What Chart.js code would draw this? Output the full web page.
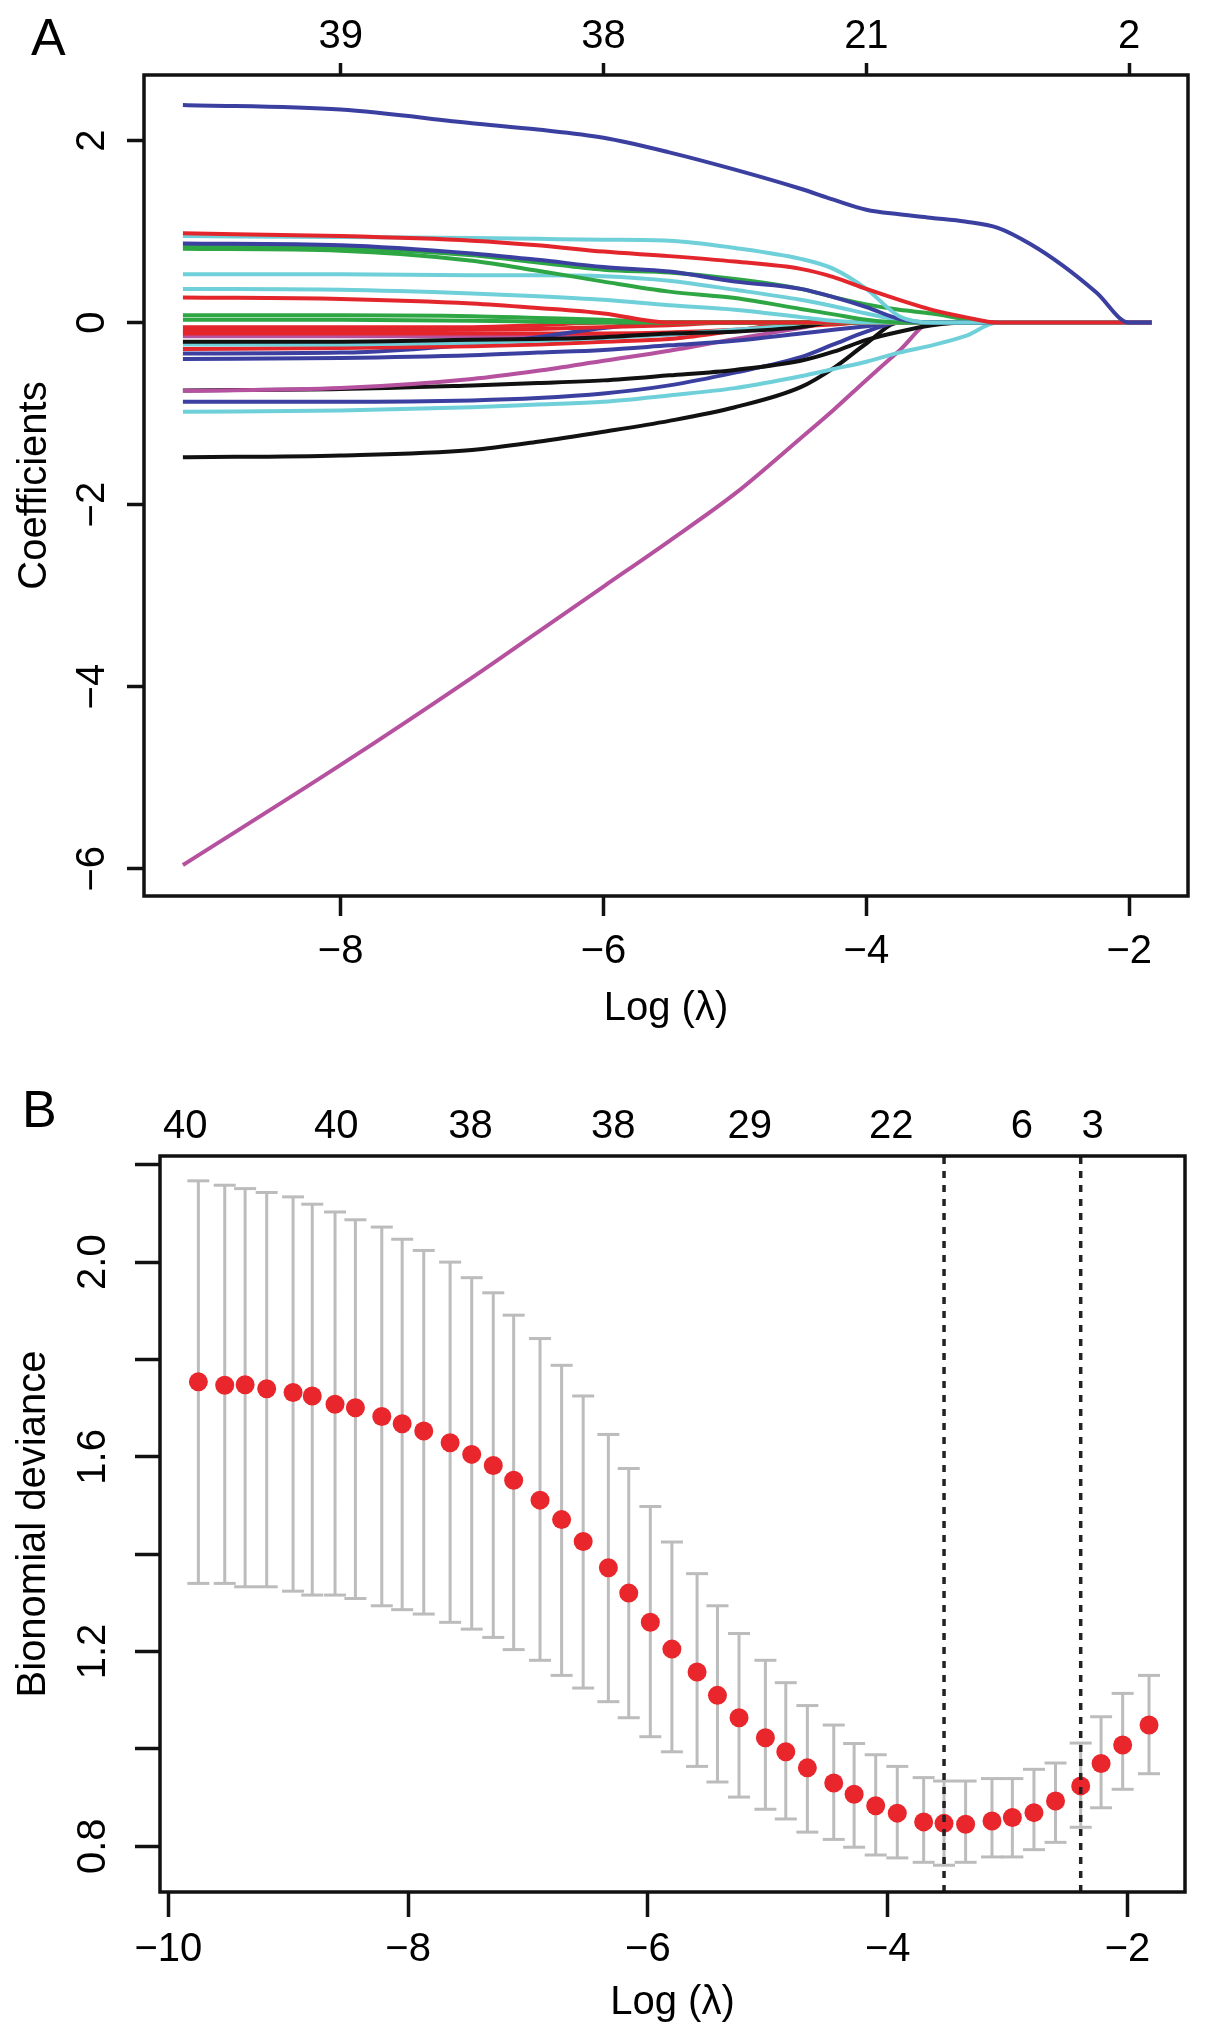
<!DOCTYPE html>
<html>
<head>
<meta charset="utf-8">
<script src="https://cdn.jsdelivr.net/npm/chart.js@4.4.1/dist/chart.umd.min.js"></script>
<style>
  body { margin: 0; background: #fff; width: 1205px; height: 2039px; position: relative; overflow: hidden;
         font-family: "Liberation Sans", Arial, Helvetica, sans-serif; }
  canvas { position: absolute; left: 0; }
  .tag { position: absolute; font-size: 52px; line-height: 52px; color: #000; }
</style>
</head>
<body>
<div class="tag" style="left:31px; top:11px">A</div>
<div class="tag" style="left:22px; top:1083px">B</div>
<canvas id="coefChart" style="top:0" width="1205" height="1040"></canvas>
<canvas id="cvChart" style="top:1040px" width="1205" height="999"></canvas>
<script>
// ---------- panel A : coefficient paths ----------
const logLambdaA = [-9.2, -8, -7, -6.5, -6, -5.5, -5, -4.5, -4.25, -4, -3.75, -3.5, -3.25, -3, -2.75, -2.5, -2.25, -2, -1.83];

const blueTop   = [2.39, 2.34, 2.19, 2.12, 2.03, 1.87, 1.68, 1.47, 1.35, 1.24, 1.19, 1.15, 1.11, 1.04, 0.86, 0.62, 0.33, 0, 0];
const redTop    = [0.98, 0.95, 0.90, 0.85, 0.78, 0.73, 0.67, 0.59, 0.50, 0.37, 0.25, 0.14, 0.06, 0, 0, 0, 0, 0, 0];
const cyanTop   = [0.95, 0.94, 0.93, 0.92, 0.91, 0.90, 0.82, 0.70, 0.59, 0.37, 0.07, 0, 0, 0, 0, 0, 0, 0, 0];
const blue2     = [0.87, 0.85, 0.76, 0.69, 0.61, 0.56, 0.45, 0.37, 0.28, 0.17, 0.04, 0, 0, 0, 0, 0, 0, 0, 0];
const greenA    = [0.84, 0.82, 0.74, 0.66, 0.58, 0.55, 0.48, 0.37, 0.28, 0.20, 0.14, 0.10, 0.04, 0, 0, 0, 0, 0, 0];
const greenB    = [0.81, 0.79, 0.68, 0.57, 0.45, 0.34, 0.27, 0.15, 0.09, 0.03, 0, 0, 0, 0, 0, 0, 0, 0, 0];
const cyan2     = [0.53, 0.53, 0.52, 0.52, 0.51, 0.46, 0.36, 0.25, 0.18, 0.10, 0.03, 0, 0, 0, 0, 0, 0, 0, 0];
const cyan3     = [0.37, 0.36, 0.32, 0.29, 0.25, 0.19, 0.14, 0.06, 0.02, 0, 0, 0, 0, 0, 0, 0, 0, 0, 0];
const red2      = [0.275, 0.26, 0.21, 0.16, 0.10, 0, 0, 0, 0, 0, 0, 0, 0, 0, 0, 0, 0, 0, 0];
const green3    = [0.08, 0.08, 0.07, 0.05, 0.03, 0, 0, 0, 0, 0, 0, 0, 0, 0, 0, 0, 0, 0, 0];
const green4    = [0.03, 0.03, 0.02, 0.01, 0, 0, 0, 0, 0, 0, 0, 0, 0, 0, 0, 0, 0, 0, 0];
const crimson1  = [-0.05, -0.05, -0.05, -0.03, 0, 0, 0, 0, 0, 0, 0, 0, 0, 0, 0, 0, 0, 0, 0];
const crimson2  = [-0.09, -0.09, -0.08, -0.07, -0.05, -0.03, 0, 0, 0, 0, 0, 0, 0, 0, 0, 0, 0, 0, 0];
const black1    = [-0.21, -0.21, -0.19, -0.18, -0.16, -0.12, -0.10, -0.05, 0, 0, 0, 0, 0, 0, 0, 0, 0, 0, 0];
const cyan5     = [-0.24, -0.24, -0.22, -0.20, -0.17, -0.13, -0.08, -0.03, 0, 0, 0, 0, 0, 0, 0, 0, 0, 0, 0];
const red3      = [-0.29, -0.28, -0.26, -0.24, -0.21, -0.18, -0.09, 0, 0, 0, 0, 0, 0, 0, 0, 0, 0, 0, 0];
const blueA     = [-0.34, -0.33, -0.24, -0.16, -0.06, 0, 0, 0, 0, 0, 0, 0, 0, 0, 0, 0, 0, 0, 0];
const blueB     = [-0.40, -0.39, -0.36, -0.33, -0.30, -0.25, -0.20, -0.12, -0.08, -0.04, 0, 0, 0, 0, 0, 0, 0, 0, 0];
const red4      = [-0.12, -0.12, -0.12, -0.12, -0.12, -0.11, -0.08, -0.04, -0.02, 0, 0, 0, 0, 0, 0, 0, 0, 0, 0];
const magenta3  = [-0.15, -0.15, -0.15, -0.15, -0.15, -0.13, -0.09, -0.03, 0, 0, 0, 0, 0, 0, 0, 0, 0, 0, 0];
const magenta2  = [-0.75, -0.72, -0.62, -0.53, -0.42, -0.31, -0.18, -0.06, 0, 0, 0, 0, 0, 0, 0, 0, 0, 0, 0];
const black2    = [-0.745, -0.73, -0.69, -0.665, -0.635, -0.58, -0.52, -0.42, -0.32, -0.19, -0.10, -0.03, 0, 0, 0, 0, 0, 0, 0];
const blue3     = [-0.87, -0.87, -0.855, -0.83, -0.78, -0.69, -0.55, -0.38, -0.24, -0.10, 0, 0, 0, 0, 0, 0, 0, 0, 0];
const cyan4     = [-0.98, -0.965, -0.93, -0.90, -0.87, -0.80, -0.72, -0.59, -0.51, -0.43, -0.33, -0.25, -0.15, 0, 0, 0, 0, 0, 0];
const black3    = [-1.48, -1.46, -1.40, -1.31, -1.20, -1.08, -0.93, -0.71, -0.50, -0.23, 0, 0, 0, 0, 0, 0, 0, 0, 0];
const magentaBig = [-5.96, -4.86, -3.90, -3.40, -2.90, -2.40, -1.88, -1.27, -0.96, -0.63, -0.31, 0, 0, 0, 0, 0, 0, 0, 0];

const coefXTicks = [-8, -6, -4, -2];
const coefXLabels = ['\u22128', '\u22126', '\u22124', '\u22122'];
const coefYTicks = [-6, -4, -2, 0, 2];
const coefYLabels = ['\u22126', '\u22124', '\u22122', '0', '2'];
const dfTopA = ['39', '38', '21', '2'];

// ---------- panel B : cross-validation ----------
const logLambdaB = [-9.75, -9.53, -9.36, -9.18, -8.96, -8.80, -8.61, -8.44, -8.22, -8.05, -7.87, -7.65, -7.47, -7.29,
  -7.12, -6.90, -6.72, -6.54, -6.33, -6.16, -5.98, -5.80, -5.59, -5.42, -5.24, -5.02, -4.85, -4.67, -4.45, -4.28,
  -4.10, -3.92, -3.70, -3.53, -3.35, -3.13, -2.96, -2.78, -2.60, -2.39, -2.22, -2.04, -1.82];
const devMean = [1.754, 1.747, 1.748, 1.740, 1.732, 1.725, 1.708, 1.701, 1.683, 1.668, 1.653, 1.629, 1.605, 1.582,
  1.552, 1.511, 1.471, 1.426, 1.372, 1.320, 1.260, 1.205, 1.158, 1.110, 1.064, 1.023, 0.994, 0.961, 0.930, 0.907,
  0.883, 0.868, 0.850, 0.847, 0.845, 0.852, 0.859, 0.869, 0.893, 0.924, 0.970, 1.008, 1.049];
const devUpper = [2.167, 2.158, 2.151, 2.143, 2.134, 2.119, 2.103, 2.087, 2.072, 2.047, 2.024, 2.000, 1.968, 1.937,
  1.891, 1.843, 1.788, 1.725, 1.646, 1.576, 1.498, 1.425, 1.360, 1.294, 1.237, 1.182, 1.136, 1.089, 1.049, 1.011,
  0.988, 0.964, 0.941, 0.934, 0.934, 0.939, 0.939, 0.958, 0.971, 1.012, 1.066, 1.114, 1.151];
const devLower = [1.340, 1.340, 1.333, 1.333, 1.324, 1.316, 1.316, 1.309, 1.294, 1.286, 1.277, 1.260, 1.246, 1.229,
  1.204, 1.182, 1.151, 1.125, 1.097, 1.064, 1.025, 0.994, 0.964, 0.932, 0.901, 0.876, 0.856, 0.829, 0.814, 0.798,
  0.782, 0.776, 0.767, 0.761, 0.767, 0.778, 0.778, 0.793, 0.808, 0.839, 0.879, 0.917, 0.949];
const lambdaMin = -3.53;
const lambda1se = -2.39;
const devXTicks = [-10, -8, -6, -4, -2];
const devXLabels = ['\u221210', '\u22128', '\u22126', '\u22124', '\u22122'];
const devYTicks = [0.8, 1.0, 1.2, 1.4, 1.6, 1.8, 2.0, 2.2];
const devYLabels = ['0.8', '', '1.2', '', '1.6', '', '2.0', ''];
const nzeroAtB = [-9.86, -8.60, -7.48, -6.29, -5.15, -3.97, -2.88, -2.29];
const nzeroB = ['40', '40', '38', '38', '29', '22', '6', '3'];
const devYMin = 0.706, devYMax = 2.218;

// ---------- drawing ----------
const BLACK = '#111111', RED = '#e3262b', GREEN = '#2ea644', BLUE = '#3b40a0', CYAN = '#6fd0da', MAGENTA = '#b5519f';
Chart.defaults.font.family = "'Liberation Sans', Arial, Helvetica, sans-serif";
Chart.defaults.color = '#000';

const frame = {
  id: 'frame',
  afterDraw(chart) {
    const { ctx, chartArea: a } = chart;
    ctx.save();
    ctx.strokeStyle = '#111';
    ctx.lineWidth = 3.5;
    ctx.strokeRect(a.left, a.top, a.right - a.left, a.bottom - a.top);
    ctx.restore();
  }
};

function tickMarks(len) {
  return { display: true, drawOnChartArea: false, drawTicks: true, tickLength: len, tickWidth: 3.5, tickColor: '#111' };
}
function fixedTicks(values) {
  return s => { s.ticks = values.map(v => ({ value: v })); };
}
const tickFont = { size: 40 };
const titleFont = { size: 40 };

const coefPaths = [
  [blueTop, BLUE], [redTop, RED], [cyanTop, CYAN], [blue2, BLUE], [greenA, GREEN], [greenB, GREEN],
  [cyan2, CYAN], [cyan3, CYAN], [red2, RED], [green3, GREEN], [green4, GREEN], [crimson1, RED],
  [crimson2, RED], [black1, BLACK], [cyan5, CYAN], [red3, RED], [blueA, BLUE], [blueB, BLUE],
  [red4, RED], [magenta3, MAGENTA], [magenta2, MAGENTA], [black2, BLACK], [blue3, BLUE], [cyan4, CYAN],
  [black3, BLACK], [magentaBig, MAGENTA]
];

new Chart(document.getElementById('coefChart'), {
  type: 'line',
  data: {
    datasets: coefPaths.map(([ys, color]) => ({
      data: ys.map((y, i) => ({ x: logLambdaA[i], y })),
      borderColor: color,
      borderWidth: 4,
      pointRadius: 0,
      cubicInterpolationMode: 'monotone',
      fill: false
    }))
  },
  options: {
    responsive: false,
    animation: false,
    devicePixelRatio: 1,
    events: [],
    layout: { padding: { left: 0, right: 17, top: 0, bottom: 0 } },
    plugins: { legend: { display: false }, tooltip: { enabled: false } },
    scales: {
      x: {
        type: 'linear', position: 'bottom', min: -9.496, max: -1.553,
        afterBuildTicks: fixedTicks(coefXTicks),
        afterFit: s => { s.height = 144; },
        grid: tickMarks(20), border: { display: false },
        ticks: { font: tickFont, padding: 12, autoSkip: false, maxRotation: 0, callback: (v, i) => coefXLabels[i] },
        title: { display: true, text: 'Log (\u03bb)', font: titleFont, padding: { top: 0, bottom: 7 } }
      },
      xTop: {
        type: 'linear', position: 'top', min: -9.496, max: -1.553,
        afterBuildTicks: fixedTicks(coefXTicks),
        afterFit: s => { s.height = 75; },
        grid: tickMarks(12), border: { display: false },
        ticks: { font: tickFont, padding: 2, autoSkip: false, maxRotation: 0, callback: (v, i) => dfTopA[i] }
      },
      y: {
        type: 'linear', position: 'left', min: -6.30, max: 2.72,
        afterBuildTicks: fixedTicks(coefYTicks),
        afterFit: s => { s.width = 144; },
        grid: tickMarks(17), border: { display: false },
        ticks: { font: tickFont, padding: 11, crossAlign: 'center', minRotation: 90, maxRotation: 90,
                 callback: (v, i) => coefYLabels[i] },
        title: { display: true, text: 'Coefficients', font: titleFont, padding: { top: 11, bottom: 0 } }
      }
    }
  },
  plugins: [frame]
});

const stemPoints = [];
logLambdaB.forEach((x, i) => {
  stemPoints.push({ x, y: devLower[i] }, { x, y: devUpper[i] }, { x, y: null });
});
const capStyle = { showLine: false, pointStyle: 'line', pointRadius: 11, pointBorderColor: '#bcbcbc', pointBorderWidth: 3 };
const cutStyle = { borderColor: '#222', borderWidth: 3.5, borderDash: [7, 7], pointRadius: 0 };

new Chart(document.getElementById('cvChart'), {
  type: 'line',
  data: {
    datasets: [
      { data: [{ x: lambdaMin, y: devYMin }, { x: lambdaMin, y: devYMax }], ...cutStyle },
      { data: [{ x: lambda1se, y: devYMin }, { x: lambda1se, y: devYMax }], ...cutStyle },
      { data: logLambdaB.map((x, i) => ({ x, y: devMean[i] })), showLine: false, pointRadius: 9.5,
        pointBackgroundColor: '#e8262b', pointBorderWidth: 0 },
      { data: logLambdaB.map((x, i) => ({ x, y: devUpper[i] })), ...capStyle },
      { data: logLambdaB.map((x, i) => ({ x, y: devLower[i] })), ...capStyle },
      { data: stemPoints, borderColor: '#bcbcbc', borderWidth: 3, pointRadius: 0, spanGaps: false }
    ]
  },
  options: {
    responsive: false,
    animation: false,
    devicePixelRatio: 1,
    events: [],
    layout: { padding: { left: 0, right: 20, top: 0, bottom: 0 } },
    plugins: { legend: { display: false }, tooltip: { enabled: false } },
    scales: {
      x: {
        type: 'linear', position: 'bottom', min: -10.07, max: -1.52,
        afterBuildTicks: fixedTicks(devXTicks),
        afterFit: s => { s.height = 147; },
        grid: tickMarks(25), border: { display: false },
        ticks: { font: tickFont, padding: 9, autoSkip: false, maxRotation: 0, callback: (v, i) => devXLabels[i] },
        title: { display: true, text: 'Log (\u03bb)', font: titleFont, padding: { top: 0, bottom: 12 } }
      },
      xTop: {
        type: 'linear', position: 'top', min: -10.07, max: -1.52,
        afterBuildTicks: fixedTicks(nzeroAtB),
        afterFit: s => { s.height = 116; },
        grid: { display: false, drawTicks: false }, border: { display: false },
        ticks: { font: tickFont, padding: 5, autoSkip: false, maxRotation: 0, callback: (v, i) => nzeroB[i] }
      },
      y: {
        type: 'linear', position: 'left', min: devYMin, max: devYMax,
        afterBuildTicks: fixedTicks(devYTicks),
        afterFit: s => { s.width = 160; },
        grid: tickMarks(25), border: { display: false },
        ticks: { font: tickFont, padding: 13, crossAlign: 'center', minRotation: 90, maxRotation: 90,
                 callback: (v, i) => devYLabels[i] },
        title: { display: true, text: 'Bionomial deviance', font: titleFont, padding: { top: 10, bottom: 0 } }
      }
    }
  },
  plugins: [frame]
});
</script>
</body>
</html>
